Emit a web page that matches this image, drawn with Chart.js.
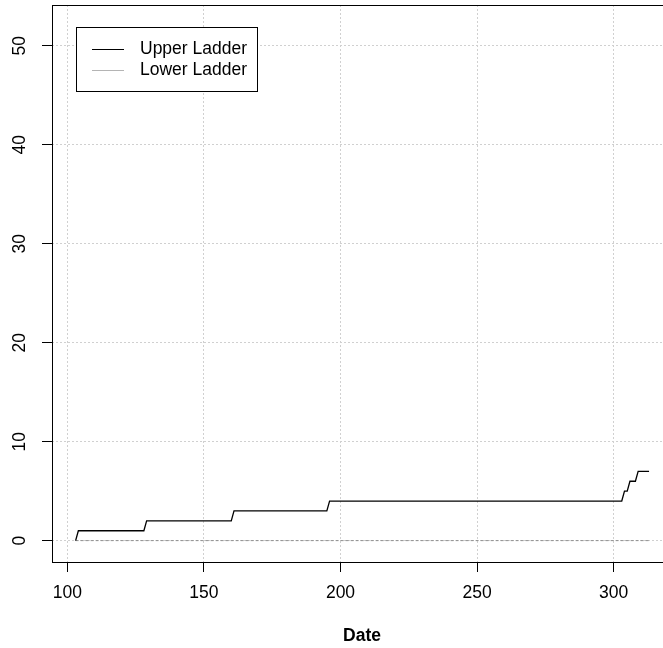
<!DOCTYPE html>
<html>
<head>
<meta charset="utf-8">
<script src="https://cdn.jsdelivr.net/npm/chart.js@4/dist/chart.umd.min.js"></script>
<style>
html, body { margin: 0; padding: 0; overflow: hidden; background: #fff; }
</style>
</head>
<body>
<canvas id="ladderChart" width="672" height="648"></canvas>
<script>
// day of year where the ladder count changes (line joins consecutive days)
const upperDates = [103, 104, 128, 129, 160, 161, 195, 196, 303, 304, 305, 306, 308, 309, 313];
const upperValues = [0, 1, 1, 2, 2, 3, 3, 4, 4, 5, 5, 6, 6, 7, 7];
const lowerDates = [103, 313];
const lowerValues = [0, 0];
const seriesNames = ['Upper Ladder', 'Lower Ladder'];
const xTicks = [100, 150, 200, 250, 300];
const yTicks = [0, 10, 20, 30, 40, 50];
const xTitle = 'Date';

const fontFamily = '"Liberation Sans", Arial, sans-serif';
const fontSize = 17.5;

function toPoints(xs, ys) {
    return xs.map(function (d, i) {
        return { x: d, y: ys[i] };
    });
}

// box, rotated y labels and legend, drawn like R base graphics
const rDecor = {
    id: 'rDecor',
    afterDraw: function (chart) {
        const ctx = chart.ctx;
        const area = chart.chartArea;
        const yScale = chart.scales.y;
        ctx.save();
        ctx.strokeStyle = '#000';
        ctx.lineWidth = 1;
        ctx.strokeRect(Math.round(area.left) + 0.5, Math.round(area.top) + 0.5,
            Math.round(area.right - area.left), Math.round(area.bottom - area.top));

        ctx.fillStyle = '#000';
        ctx.font = fontSize + 'px ' + fontFamily;
        ctx.textAlign = 'center';
        ctx.textBaseline = 'middle';
        yScale.ticks.forEach(function (t) {
            const py = yScale.getPixelForValue(t.value);
            ctx.save();
            ctx.translate(area.left - 31.5, py);
            ctx.rotate(-Math.PI / 2);
            ctx.fillText(String(t.value), 0, 0);
            ctx.restore();
        });

        // legend
        const bx = area.left + 24, by = area.top + 22, bw = 181, bh = 64;
        ctx.fillStyle = '#fff';
        ctx.fillRect(bx, by, bw, bh);
        ctx.strokeStyle = '#000';
        ctx.strokeRect(bx + 0.5, by + 0.5, bw, bh);
        chart.data.datasets.forEach(function (ds, i) {
            const ly = by + 22 + i * 21;
            ctx.strokeStyle = ds.legendColor;
            ctx.lineWidth = 1;
            ctx.beginPath();
            ctx.moveTo(bx + 16, ly + 0.5);
            ctx.lineTo(bx + 48, ly + 0.5);
            ctx.stroke();
            ctx.fillStyle = '#000';
            ctx.textAlign = 'left';
            ctx.fillText(ds.label, bx + 64, ly);
        });
        ctx.restore();
    }
};

const ctx1 = document.getElementById('ladderChart').getContext('2d');
const config = {
    type: 'line',
    data: {
        datasets: [{
            label: seriesNames[0],
            data: toPoints(upperDates, upperValues),
            borderColor: '#000',
            legendColor: '#000',
            borderWidth: 1.3,
            pointRadius: 0,
            tension: 0,
            fill: false
        }, {
            label: seriesNames[1],
            data: toPoints(lowerDates, lowerValues),
            borderColor: '#8f8f8f',
            legendColor: '#b4b4b4',
            borderWidth: 1,
            borderDash: [3, 2],
            pointRadius: 0,
            tension: 0,
            fill: false
        }]
    },
    options: {
        responsive: false,
        animation: false,
        devicePixelRatio: 1,
        layout: { padding: { top: 5, left: 0, right: 0, bottom: 0 } },
        plugins: {
            legend: { display: false },
            tooltip: { enabled: false }
        },
        scales: {
            x: {
                type: 'linear',
                min: 94.35,
                max: 321.4,
                afterBuildTicks: function (s) {
                    s.ticks = xTicks.map(function (v) { return { value: v }; });
                },
                afterFit: function (s) { s.height = 86; },
                border: { display: false, dash: [2, 2] },
                grid: {
                    color: '#d0d0d0',
                    lineWidth: 1,
                    tickLength: 10,
                    tickColor: '#000',
                    tickBorderDash: [],
                    tickWidth: 1
                },
                ticks: {
                    autoSkip: false,
                    maxRotation: 0,
                    padding: 11,
                    color: '#000',
                    font: { family: fontFamily, size: fontSize }
                },
                title: {
                    display: true,
                    text: xTitle,
                    color: '#000',
                    padding: { top: 0, bottom: 1.5 },
                    font: { family: fontFamily, size: fontSize, weight: 'bold' }
                }
            },
            y: {
                type: 'linear',
                min: -2.16,
                max: 54.12,
                afterBuildTicks: function (s) {
                    s.ticks = yTicks.map(function (v) { return { value: v }; });
                },
                afterFit: function (s) { s.width = 52; },
                border: { display: false, dash: [2, 2] },
                grid: {
                    color: '#d0d0d0',
                    lineWidth: 1,
                    tickLength: 10,
                    tickColor: '#000',
                    tickBorderDash: [],
                    tickWidth: 1
                },
                ticks: { display: false }
            }
        }
    },
    plugins: [rDecor]
};
const myChart1 = new Chart(ctx1, config);
</script>
</body>
</html>
